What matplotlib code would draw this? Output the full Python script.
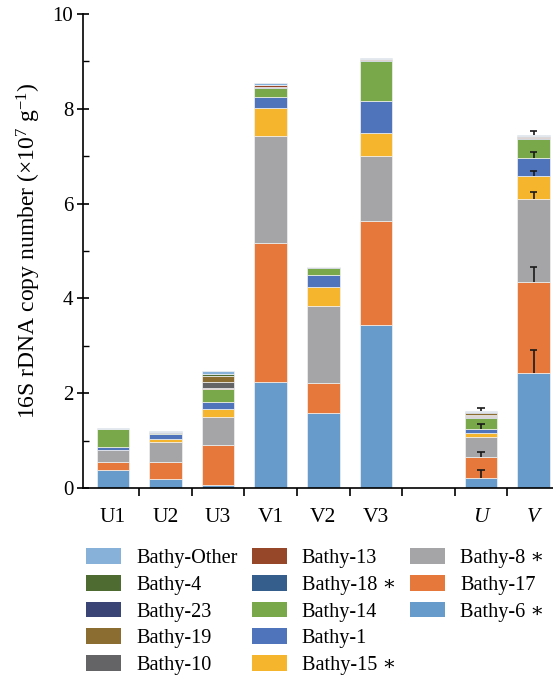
import numpy as np
import matplotlib
matplotlib.use('Agg')
import matplotlib.pyplot as plt
from matplotlib.patches import Patch

plt.rcParams['font.family'] = ['Liberation Serif', 'DejaVu Serif']
plt.rcParams['mathtext.fontset'] = 'custom'
plt.rcParams['mathtext.rm'] = 'Liberation Serif'
plt.rcParams['mathtext.it'] = 'Liberation Serif:italic'

categories = ['U1', 'U2', 'U3', 'V1', 'V2', 'V3', '', 'U', 'V']

# stacked from bottom to top
bathy6  = [0.37, 0.18, 0.06, 2.24, 1.58, 3.44, 0, 0.22, 2.42]
bathy17 = [0.17, 0.36, 0.85, 2.93, 0.63, 2.20, 0, 0.44, 1.92]
bathy8  = [0.26, 0.44, 0.58, 2.26, 1.64, 1.36, 0, 0.42, 1.76]
bathy15 = [0.00, 0.05, 0.17, 0.59, 0.40, 0.48, 0, 0.07, 0.49]
bathy1  = [0.07, 0.11, 0.15, 0.23, 0.25, 0.69, 0, 0.09, 0.38]
bathy14 = [0.37, 0.01, 0.28, 0.19, 0.15, 0.84, 0, 0.24, 0.39]
bathy18 = [0.01, 0.02, 0.00, 0.03, 0.02, 0.02, 0, 0.02, 0.03]
bathy13 = [0.00, 0.00, 0.02, 0.03, 0.00, 0.02, 0, 0.01, 0.02]
bathy10 = [0.00, 0.00, 0.13, 0.01, 0.00, 0.00, 0, 0.04, 0.01]
bathy19 = [0.00, 0.00, 0.13, 0.00, 0.00, 0.00, 0, 0.04, 0.00]
bathy23 = [0.00, 0.02, 0.00, 0.00, 0.00, 0.00, 0, 0.01, 0.00]
bathy4  = [0.00, 0.00, 0.04, 0.00, 0.00, 0.00, 0, 0.01, 0.00]
other   = [0.01, 0.01, 0.05, 0.03, 0.00, 0.02, 0, 0.02, 0.03]

# upper error bars (only on the averaged U and V bars)
err6     = [0, 0, 0, 0, 0, 0, 0, 0.15, 0.49]
err17    = [0, 0, 0, 0, 0, 0, 0, 0.11, 0.32]
err8     = [0, 0, 0, 0, 0, 0, 0, 0.00, 0.14]
err15    = [0, 0, 0, 0, 0, 0, 0, 0.00, 0.10]
err1     = [0, 0, 0, 0, 0, 0, 0, 0.10, 0.12]
errother = [0, 0, 0, 0, 0, 0, 0, 0.06, 0.08]

series = [
    ('Bathy-6 ∗', bathy6, '#669bcb', err6),
    ('Bathy-17', bathy17, '#e5783a', err17),
    ('Bathy-8 ∗', bathy8, '#a5a4a6', err8),
    ('Bathy-15 ∗', bathy15, '#f5b52c', err15),
    ('Bathy-1', bathy1, '#4f74bb', err1),
    ('Bathy-14', bathy14, '#78a84a', None),
    ('Bathy-18 ∗', bathy18, '#355e8c', None),
    ('Bathy-13', bathy13, '#96472a', None),
    ('Bathy-10', bathy10, '#646366', None),
    ('Bathy-19', bathy19, '#8c6d31', None),
    ('Bathy-23', bathy23, '#3b4575', None),
    ('Bathy-4', bathy4, '#4e6b31', None),
    ('Bathy-Other', other, '#88b1d9', errother),
]

fig = plt.figure(figsize=(5.53, 6.8), dpi=100)
ax = fig.add_axes([83 / 553, 1 - 488 / 680, 470 / 553, 474 / 680])

x = np.arange(len(categories))
bottom = np.zeros(len(categories))
handles = {}
for label, vals, color, err in series:
    vals = np.array(vals)
    ax.bar(x, vals, width=0.62, bottom=bottom, color=color,
           edgecolor='#f2f2f2', linewidth=0.5, zorder=2)
    handles[label] = Patch(facecolor=color, edgecolor='none')
    top = bottom + vals
    if err is not None:
        err = np.array(err)
        m = err > 0
        # upper half only, cap on top
        ax.vlines(x[m], top[m], top[m] + err[m], color='#1a1a1a', lw=1.2, zorder=3)
        ax.hlines(top[m] + err[m], x[m] - 0.075, x[m] + 0.075, color='#1a1a1a',
                  lw=1.2, zorder=3)
    bottom = top

ax.set_xlim(-0.57, 8.37)
ax.set_ylim(0, 10)
ax.spines['top'].set_visible(False)
ax.spines['right'].set_visible(False)
ax.spines['left'].set_linewidth(1.2)
ax.spines['bottom'].set_linewidth(1.2)

ax.set_xticks(np.arange(0.5, 8, 1.0))
ax.set_xticklabels([])
ax.tick_params(axis='x', which='major', direction='out', length=6, width=1.2)
ax.set_xticks(x, minor=True)
ax.set_xticklabels(categories, minor=True, fontsize=15.5)
ax.tick_params(axis='x', which='minor', length=0, pad=14.5)
for t in ax.get_xticklabels(minor=True)[-2:]:
    t.set_style('italic')

ax.set_yticks([0, 2, 4, 6, 8, 10])
ax.set_yticks([1, 3, 5, 7, 9], minor=True)
ax.tick_params(axis='y', which='major', direction='inout', length=8, width=1.2,
               labelsize=15, pad=3)
ax.tick_params(axis='y', which='minor', direction='in', length=4, width=1.0)
ax.set_ylabel('16S rDNA copy number (×10$^{7}$ g$^{-1}$)', fontsize=17, labelpad=7)

order = ['Bathy-Other', 'Bathy-4', 'Bathy-23', 'Bathy-19', 'Bathy-10',
         'Bathy-13', 'Bathy-18 ∗', 'Bathy-14', 'Bathy-1', 'Bathy-15 ∗',
         'Bathy-8 ∗', 'Bathy-17', 'Bathy-6 ∗']
leg_h = [handles[k] for k in order] + [Patch(visible=False)] * 2
leg_l = order + ['', '']
fig.legend(leg_h, leg_l, loc='upper left', bbox_to_anchor=(86 / 553, 1 - 548 / 680),
           ncol=3, frameon=False, fontsize=14.6, handlelength=1.72, handleheight=0.82,
           handletextpad=0.75, labelspacing=0.34, columnspacing=0.7,
           borderaxespad=0, borderpad=0)

fig.savefig('out.png', dpi=100)
